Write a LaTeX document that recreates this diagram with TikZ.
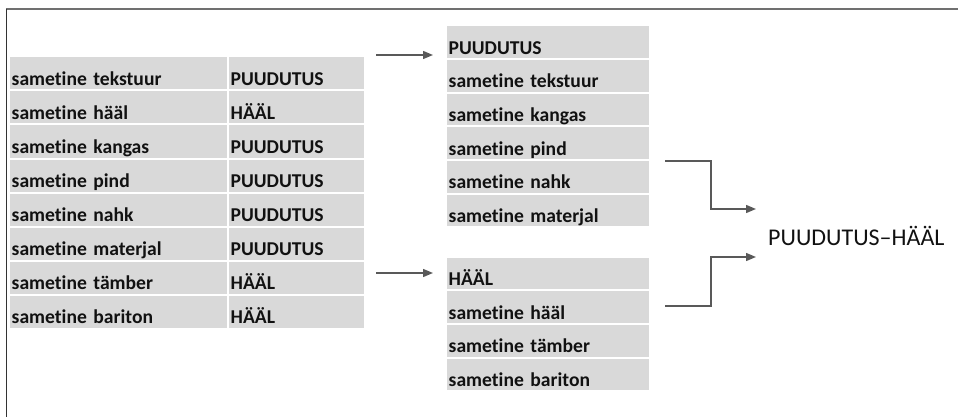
\documentclass[tikz,border=0pt]{standalone}
\usepackage{fontspec}
\setmainfont{Carlito}[Ligatures=CommonOff]
\usetikzlibrary{arrows.meta}
\definecolor{cellgray}{HTML}{D9D9D9}
\definecolor{linegray}{HTML}{595959}
\definecolor{framegray}{HTML}{707070}
\definecolor{framedark}{HTML}{333333}
\definecolor{ink}{HTML}{111111}
\tikzset{
  cell/.style={rectangle, fill=cellgray, anchor=north west, inner xsep=1.5pt, inner ysep=0pt,
    text height=26pt, text depth=2pt, align=left, text=ink,
    font=\fontsize{19.6}{22}\selectfont\bfseries},
  lcell/.style={cell, minimum height=32.1pt, text width=214pt},
  rcell/.style={cell, minimum height=32.1pt, text width=132pt},
  mcell/.style={cell, minimum height=31.7pt, text width=199pt},
  flow/.style={draw=linegray, line width=1.4pt, -{Triangle[length=10pt,width=8pt]}},
  result/.style={anchor=west, inner sep=0pt, text=ink, font=\fontsize{24}{28}\selectfont}
}
\begin{document}
\begin{tikzpicture}[x=1pt, y=-1pt]
\useasboundingbox (0,0) rectangle (958,417);
% page frame (top and left edges only)
\draw[framegray, line width=1.5pt] (6,9) -- (958,9);
\draw[framedark, line width=1.6pt] (6.5,9) -- (6.5,417);

% left table: word pairs and their domain
\foreach \i/\w/\d in {0/sametine tekstuur/PUUDUTUS, 1/sametine hääl/HÄÄL,
  2/sametine kangas/PUUDUTUS, 3/sametine pind/PUUDUTUS, 4/sametine nahk/PUUDUTUS,
  5/sametine materjal/PUUDUTUS, 6/sametine tämber/HÄÄL, 7/sametine bariton/HÄÄL} {
  \node[lcell] (w\i) at (10, 57+34.1*\i) {\w};
  \node[rcell] (d\i) at (229, 57+34.1*\i) {\d};
}

% upper group: PUUDUTUS
\foreach \i/\w in {0/PUUDUTUS, 1/sametine tekstuur, 2/sametine kangas,
  3/sametine pind, 4/sametine nahk, 5/sametine materjal} {
  \node[mcell] (p\i) at (447, 26+33.7*\i) {\w};
}

% lower group: HÄÄL
\foreach \i/\w in {0/HÄÄL, 1/sametine hääl, 2/sametine tämber, 3/sametine bariton} {
  \node[mcell] (h\i) at (447, 257.3+33.75*\i) {\w};
}

% combined result
\node[result] (res) at (768, 235.5) {PUUDUTUS–HÄÄL};

% connectors
\coordinate (a1s) at (376,55);  \coordinate (a1e) at (433,55);
\coordinate (a2s) at (376,273); \coordinate (a2e) at (433,273);
\coordinate (b1s) at (665,161); \coordinate (b1e) at (756,209);
\coordinate (b2s) at (665,306); \coordinate (b2e) at (756,257);
\draw[flow] (a1s) -- (a1e);
\draw[flow] (a2s) -- (a2e);
\draw[flow] (b1s) -- (711,161) |- (b1e);
\draw[flow] (b2s) -- (711,306) |- (b2e);
\end{tikzpicture}
\end{document}
